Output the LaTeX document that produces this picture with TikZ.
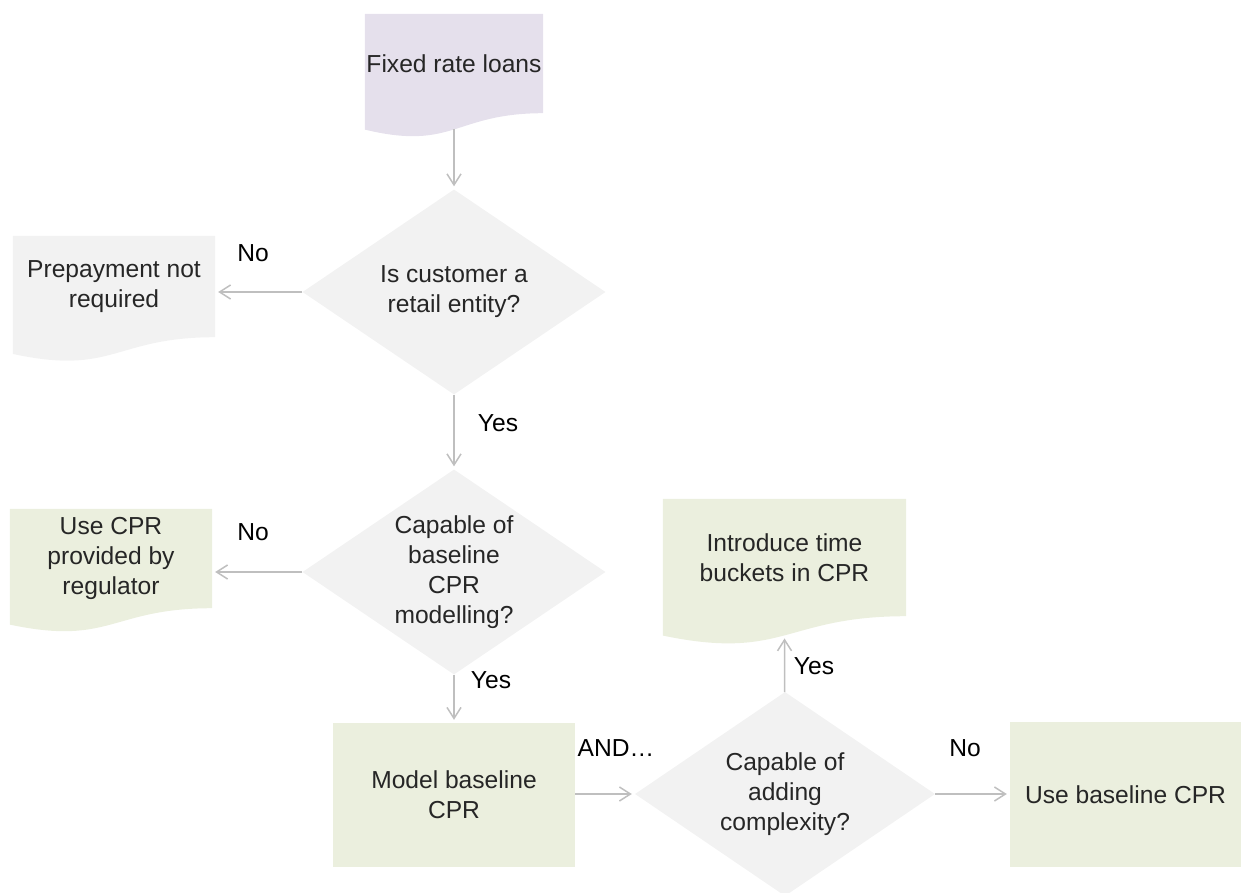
\documentclass[tikz,border=0pt]{standalone}
\usepackage{fontspec}
\setmainfont{Liberation Sans}
\usetikzlibrary{shapes.geometric,arrows.meta,calc,backgrounds}
\definecolor{lavfill}{HTML}{E5E0EC}
\definecolor{greyfill}{HTML}{F2F2F2}
\definecolor{olivefill}{HTML}{EBEFDE}
\definecolor{linkgrey}{HTML}{BFBFBF}
\definecolor{textgrey}{HTML}{262626}
% wavy bottom of a document box, plus a coordinate (name-b) in the middle of the wave
\newcommand{\docfill}[2]{%
  \fill[#2] let \p1=(#1.north), \p2=(#1.south), \p3=(#1.south west), \n1={\y1-\y2} in
    (#1.north west) -- (#1.north east) -- (#1.south east)
    .. controls (#1.south) and (\x2,{\y2-0.381*\n1}) .. (\x3,{\y3-0.165*\n1}) -- cycle;
  \path let \p1=(#1.north), \p2=(#1.south), \n1={\y1-\y2} in
    (\x2,{\y2-0.164*\n1}) coordinate (#1-b);
}
\begin{document}
\begin{tikzpicture}[x=1pt, y=-1pt,
    txt/.style={font=\fontsize{24.6}{30}\selectfont, text=textgrey, align=center},
    docbox/.style={txt, rectangle, inner sep=0pt},
    box/.style={txt, rectangle, inner sep=0pt, fill=olivefill},
    decision/.style={txt, diamond, aspect=1.48, inner sep=0pt, fill=greyfill},
    lbl/.style={font=\fontsize{24.6}{30}\selectfont, text=black},
    link/.style={draw=linkgrey, line width=1.5pt, -{Straight Barb[length=11pt,width=14pt]}, shorten >=3pt}]
  \useasboundingbox (0,0) rectangle (1241,893);
  \clip (0,0) rectangle (1241,893);

  \node[docbox, minimum width=178pt, minimum height=99pt] (fixed) at (454,63.5) {Fixed rate loans};
  \node[decision, minimum width=303pt, minimum height=205pt] (d1) at (454,292) {Is customer a\\retail entity?};
  \node[docbox, minimum width=202pt, minimum height=101pt] (prepay) at (114,286.5) {Prepayment not\\required};
  \node[decision, minimum width=303pt, minimum height=205pt] (d2) at (454,572) {Capable of\\baseline\\CPR\\modelling?};
  \node[docbox, minimum width=202pt, minimum height=99pt] (regul) at (111,558.5) {Use CPR\\provided by\\regulator};
  \node[box, minimum width=242pt, minimum height=144pt] (model) at (454,795) {Model baseline\\CPR};
  \node[decision, minimum width=300pt, minimum height=204pt] (d3) at (785,794) {Capable of\\adding\\complexity?};
  \node[docbox, minimum width=243pt, minimum height=117pt] (intro) at (784.5,557.5) {Introduce time\\buckets in CPR};
  \node[box, minimum width=231pt, minimum height=145pt] (base) at (1125.5,794.5) {Use baseline CPR};

  \begin{scope}[on background layer]
    \docfill{fixed}{lavfill}
    \docfill{prepay}{greyfill}
    \docfill{regul}{olivefill}
    \docfill{intro}{olivefill}
  \end{scope}

  \draw[link] (fixed-b) -- (d1);
  \draw[link] (d1.west) -- (d1.west -| prepay.east);
  \draw[link] (d1) -- (d2);
  \draw[link] (d2.west) -- (d2.west -| regul.east);
  \draw[link] (d2) -- (model);
  \draw[link] (model.east |- d3.west) -- (d3.west);
  \draw[link] (d3) -- (intro-b);
  \draw[link] (d3.east) -- (d3.east -| base.west);

  \node[lbl] (no1) at (253,253) {No};
  \node[lbl] (yes1) at (498,423) {Yes};
  \node[lbl] (no2) at (253,532) {No};
  \node[lbl] (yes2) at (491,680) {Yes};
  \node[lbl] (and) at (616,748) {AND…};
  \node[lbl] (yes3) at (814,666) {Yes};
  \node[lbl] (no3) at (965,748) {No};
\end{tikzpicture}
\end{document}
